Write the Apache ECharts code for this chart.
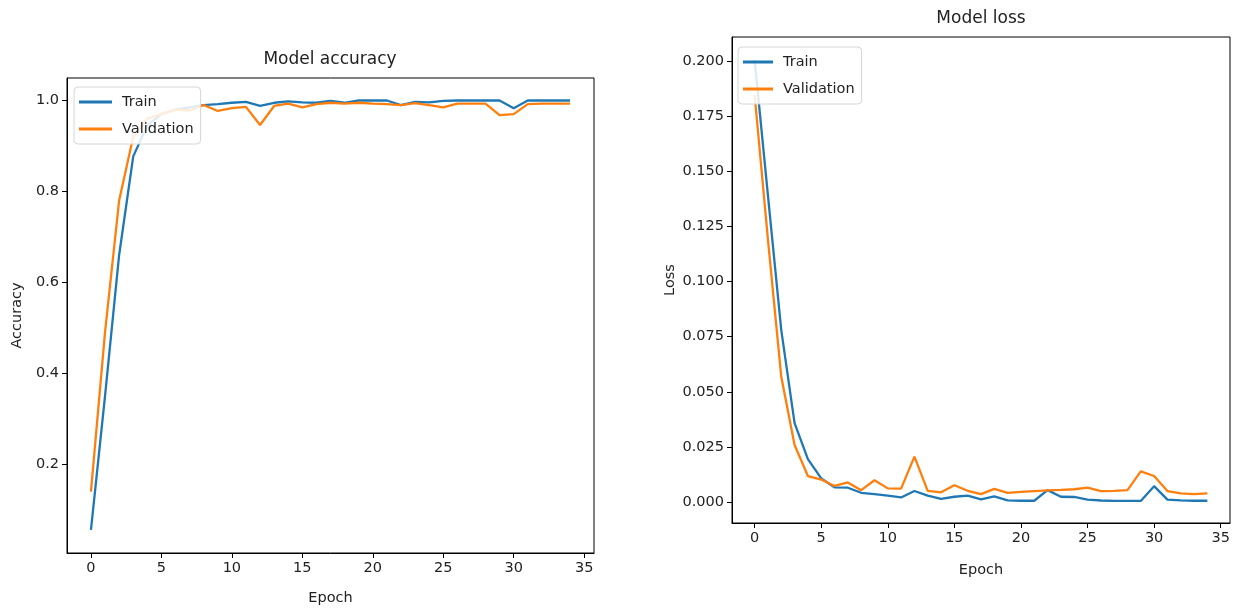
<!DOCTYPE html>
<html>
<head>
<meta charset="utf-8">
<style>
  html, body { margin: 0; padding: 0; background: #fff; }
  #chart { width: 1233px; height: 608px; }
</style>
<script src="https://cdn.jsdelivr.net/npm/echarts@6/dist/echarts.min.js"></script>
</head>
<body>
<div id="chart"></div>
<script>
// Training history: accuracy and loss per epoch
const epochs = [0, 1, 2, 3, 4, 5, 6, 7, 8, 9, 10, 11, 12, 13, 14, 15, 16, 17,
  18, 19, 20, 21, 22, 23, 24, 25, 26, 27, 28, 29, 30, 31, 32, 33, 34];

const trainAcc = [0.055, 0.35, 0.66, 0.877, 0.945, 0.97, 0.98, 0.985, 0.99, 0.992,
  0.995, 0.997, 0.988, 0.995, 0.998, 0.996, 0.995, 0.999, 0.995, 1.0,
  1.0, 1.0, 0.99, 0.997, 0.996, 0.999, 1.0, 1.0, 1.0, 1.0,
  0.983, 1.0, 1.0, 1.0, 1.0];

const valAcc = [0.139, 0.49, 0.78, 0.92, 0.96, 0.97, 0.98, 0.978, 0.99, 0.977,
  0.983, 0.986, 0.946, 0.988, 0.993, 0.985, 0.992, 0.995, 0.993, 0.995,
  0.993, 0.992, 0.99, 0.994, 0.99, 0.985, 0.993, 0.993, 0.993, 0.968,
  0.97, 0.992, 0.993, 0.993, 0.993];

const trainLoss = [0.2005, 0.139, 0.078, 0.0358, 0.0195, 0.0107, 0.0067, 0.0065, 0.0042, 0.0036,
  0.0029, 0.0021, 0.005, 0.0029, 0.0014, 0.0024, 0.0029, 0.0012, 0.0026, 0.0008,
  0.0006, 0.0006, 0.0054, 0.0024, 0.0023, 0.0011, 0.0007, 0.0005, 0.0005, 0.0005,
  0.0072, 0.0011, 0.0008, 0.0006, 0.0006];

const valLoss = [0.1846, 0.119, 0.0568, 0.0259, 0.0118, 0.0102, 0.0073, 0.0089, 0.0054, 0.0099,
  0.0062, 0.0061, 0.0206, 0.0051, 0.0044, 0.0076, 0.0051, 0.0036, 0.006, 0.0042,
  0.0046, 0.005, 0.0053, 0.0055, 0.0058, 0.0065, 0.005, 0.0051, 0.0054, 0.0139,
  0.0118, 0.005, 0.0039, 0.0036, 0.0039];

const epochTicks = [0, 5, 10, 15, 20, 25, 30, 35];
const accTicks = [0.2, 0.4, 0.6, 0.8, 1.0];
const lossTicks = [0, 0.025, 0.05, 0.075, 0.1, 0.125, 0.15, 0.175, 0.2];

const BLUE = '#1f77b4';
const ORANGE = '#ff7f0e';
const INK = '#222';
const FONT = 'DejaVu Sans';
const TICK_FS = 14.5;

const pairs = (ys) => epochs.map((e, i) => [e, ys[i]]);

function xAxisDef(gridIndex, nameGap) {
  return {
    type: 'value', gridIndex, min: -1.7, max: 35.7,
    name: 'Epoch', nameLocation: 'middle', nameGap,
    nameTextStyle: { color: INK, fontSize: TICK_FS, fontFamily: FONT },
    axisLine: { show: true, onZero: false, lineStyle: { color: '#000', width: 1 } },
    axisTick: { show: true, length: 5, customValues: epochTicks, lineStyle: { color: '#000' } },
    axisLabel: { customValues: epochTicks, color: INK, fontSize: TICK_FS, fontFamily: FONT, margin: 8,
      formatter: (v) => String(Math.round(v)) },
    splitLine: { show: false }
  };
}

function yAxisDef(gridIndex, name, nameGap, min, max, ticks, digits) {
  return {
    type: 'value', gridIndex, min, max,
    name, nameLocation: 'middle', nameGap,
    nameTextStyle: { color: INK, fontSize: TICK_FS, fontFamily: FONT },
    axisLine: { show: true, onZero: false, lineStyle: { color: '#000', width: 1 } },
    axisTick: { show: true, length: 5, customValues: ticks, lineStyle: { color: '#000' } },
    axisLabel: { customValues: ticks, color: INK, fontSize: TICK_FS, fontFamily: FONT, margin: 8,
      formatter: (v) => v.toFixed(digits) },
    splitLine: { show: false }
  };
}

function legendDef(left, top, itemWidth) {
  return {
    orient: 'vertical', left, top,
    padding: [7, 7, 7, 5],
    itemWidth, itemHeight: 3, itemGap: 11,
    icon: 'rect',
    backgroundColor: 'rgba(255,255,255,0.85)',
    borderColor: '#d6d6d6', borderWidth: 1, borderRadius: 4,
    data: ['Train', 'Validation'],
    textStyle: { color: INK, fontSize: TICK_FS, fontFamily: FONT, lineHeight: 16, padding: [0, 0, 0, 5] }
  };
}

function lineSeries(name, xi, ys, color) {
  return {
    type: 'line', name, xAxisIndex: xi, yAxisIndex: xi,
    data: pairs(ys), showSymbol: false, symbol: 'none',
    lineStyle: { color, width: 2.3 }, itemStyle: { color },
    emphasis: { disabled: true }
  };
}

const chart = echarts.init(document.getElementById('chart'), null, { renderer: 'canvas' });
chart.setOption({
  animation: false,
  backgroundColor: '#fff',
  title: [
    { text: 'Model accuracy', left: 330, top: 51, textAlign: 'center', padding: 0,
      textStyle: { color: INK, fontSize: 17, fontWeight: 'normal', fontFamily: FONT } },
    { text: 'Model loss', left: 981, top: 10, textAlign: 'center', padding: 0,
      textStyle: { color: INK, fontSize: 17, fontWeight: 'normal', fontFamily: FONT } }
  ],
  grid: [
    { left: 67, right: 639, top: 78, bottom: 55, show: true, borderColor: '#000', borderWidth: 1,
      containLabel: false, outerBoundsMode: 'none' },
    { left: 732, right: 3, top: 37, bottom: 85, show: true, borderColor: '#000', borderWidth: 1,
      containLabel: false, outerBoundsMode: 'none' }
  ],
  legend: [
    legendDef(74, 87, 33),
    legendDef(738, 47, 30)
  ],
  xAxis: [xAxisDef(0, 38), xAxisDef(1, 40)],
  yAxis: [
    yAxisDef(0, 'Accuracy', 42, 0.0041, 1.0495, accTicks, 1),
    yAxisDef(1, 'Loss', 54, -0.0095, 0.2109, lossTicks, 3)
  ],
  series: [
    lineSeries('Train', 0, trainAcc, BLUE),
    lineSeries('Validation', 0, valAcc, ORANGE),
    lineSeries('Train', 1, trainLoss, BLUE),
    lineSeries('Validation', 1, valLoss, ORANGE)
  ]
});
</script>
</body>
</html>
